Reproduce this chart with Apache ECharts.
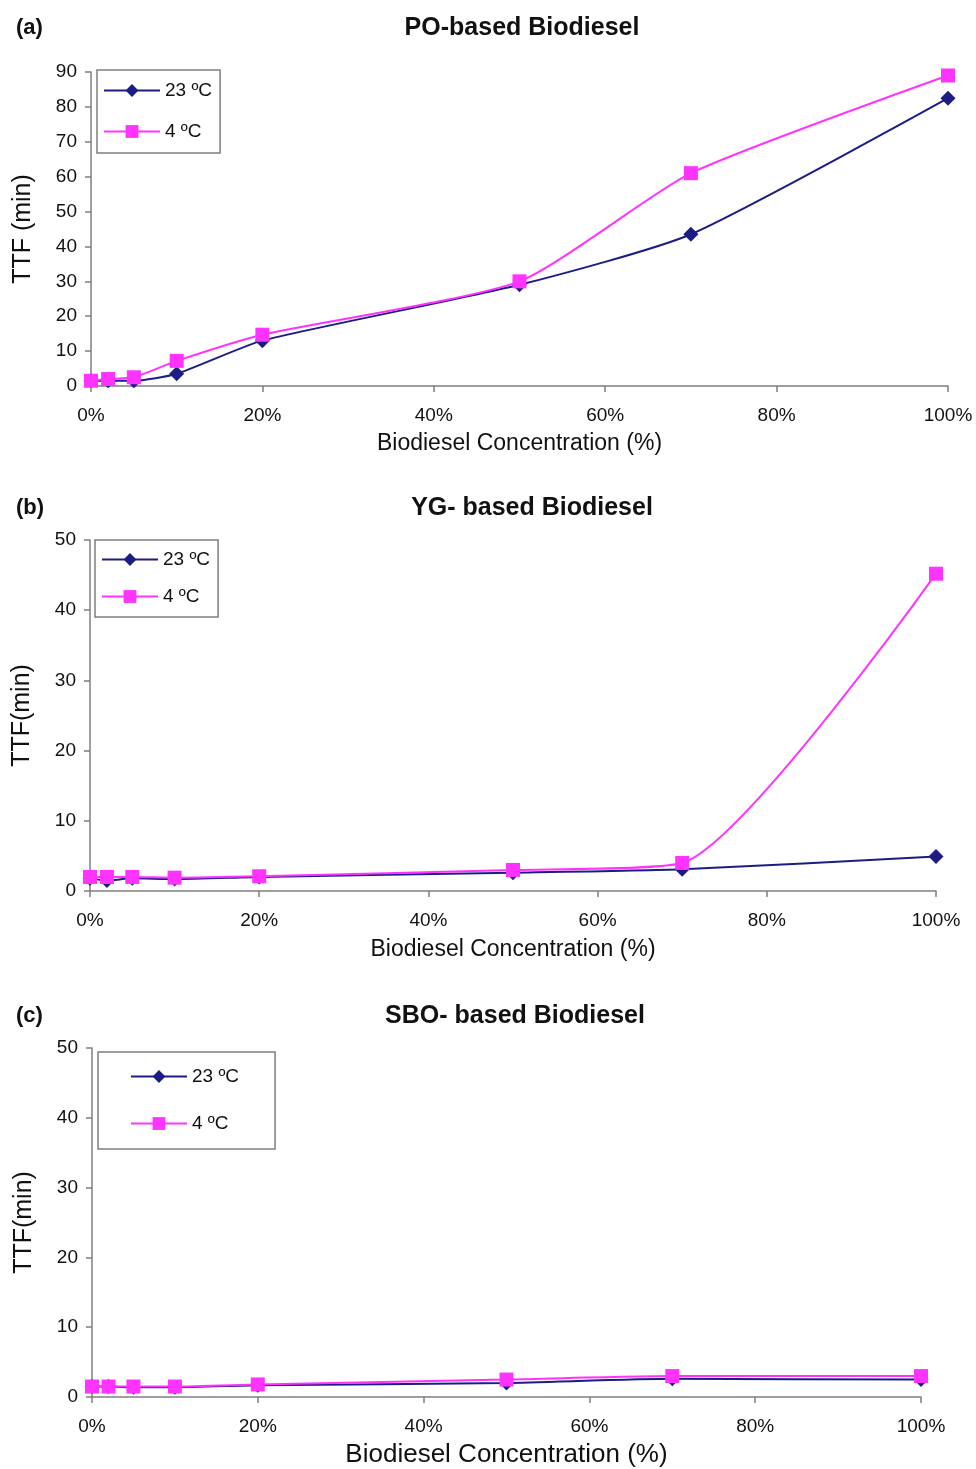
<!DOCTYPE html>
<html>
<head>
<meta charset="utf-8">
<script src="https://cdn.jsdelivr.net/npm/echarts@6/dist/echarts.min.js"></script>
<style>
  html, body { margin: 0; padding: 0; background: #fff; }
</style>
</head>
<body>
<div id="chart" style="width: 976px; height: 1469px;"></div>
<script>
// biodiesel concentration (%) for every measured point
const concentrations = [0, 2, 5, 10, 20, 50, 70, 100]
const seriesNames = ['23 ºC', '4 ºC']

// PO-based
const poWarm = [1.5, 1.5, 1.5, 3.5, 13, 29, 43.5, 82.5]
const poCold = [1.5, 2, 2.5, 7.2, 14.7, 30, 61, 89]
// YG-based
const ygWarm = [1.8, 1.5, 1.8, 1.7, 2, 2.6, 3.1, 4.9]
const ygCold = [2, 2, 2, 1.9, 2.1, 3, 4, 45.2]
// SBO-based
const sboWarm = [1.5, 1.5, 1.4, 1.4, 1.7, 2, 2.6, 2.5]
const sboCold = [1.5, 1.5, 1.5, 1.5, 1.8, 2.5, 3, 3]

const panelTitles = ['PO-based Biodiesel', 'YG- based Biodiesel', 'SBO- based Biodiesel']
const panelTags = ['(a)', '(b)', '(c)']
const yNames = ['TTF (min)', 'TTF(min)', 'TTF(min)']
const yMax = [90, 50, 50]
const xName = 'Biodiesel Concentration (%)'

const NAVY = '#1c1c85'
const PINK = '#ff33ff'
const AXIS = '#7f7f7f'
const FONT = '"Liberation Sans", Arial, sans-serif'

const grids = [
    { left: 91, top: 72, width: 857, height: 314 },
    { left: 90, top: 540, width: 846, height: 351 },
    { left: 92, top: 1048, width: 829, height: 351 }
]
const legendBoxes = [
    { left: 97, top: 70, itemGap: 22, padding: [11, 8, 12, 6] },
    { left: 95, top: 540, itemGap: 18, padding: [10, 8, 11, 6] },
    { left: 98, top: 1052, itemGap: 28, padding: [15, 36, 16, 32] }
]
const xNameSize = [23, 23, 26]
const xNameGap = [46, 47, 45]
const titleTop = [11, 491, 999]

function pair(xs, ys) {
    return xs.map((x, i) => [x, ys[i]])
}

const chart = echarts.init(document.getElementById('chart'))

let titles = []
let legends = []
let xAxes = []
let yAxes = []
let series = []
const dataSets = [[poWarm, poCold], [ygWarm, ygCold], [sboWarm, sboCold]]

grids.forEach((g, i) => {
    titles.push({
        text: panelTitles[i],
        left: [517, 527, 510][i],
        top: titleTop[i],
        textAlign: 'center',
        textStyle: { fontFamily: FONT, fontSize: 25, fontWeight: 'bold', color: '#111' }
    })
    titles.push({
        text: panelTags[i],
        left: 11,
        top: titleTop[i] + 1,
        textStyle: { fontFamily: FONT, fontSize: 22, fontWeight: 'bold', color: '#111' }
    })
    legends.push({
        data: seriesNames,
        orient: 'vertical',
        left: legendBoxes[i].left,
        top: legendBoxes[i].top,
        itemGap: legendBoxes[i].itemGap,
        padding: legendBoxes[i].padding,
        itemWidth: 56,
        itemHeight: 16,
        borderColor: AXIS,
        borderWidth: 1.5,
        borderRadius: 0,
        selectedMode: false,
        textStyle: { fontFamily: FONT, fontSize: 19, color: '#111' }
    })
    xAxes.push({
        type: 'value',
        gridIndex: i,
        min: 0,
        max: 100,
        interval: 20,
        name: xName,
        nameLocation: 'middle',
        nameGap: xNameGap[i],
        nameTextStyle: { fontFamily: FONT, fontSize: xNameSize[i], color: '#111' },
        axisLine: { lineStyle: { color: AXIS, width: 1.5 } },
        axisTick: { lineStyle: { color: AXIS, width: 1.5 }, length: 6 },
        splitLine: { show: false },
        axisLabel: {
            formatter: '{value}%',
            margin: 20,
            fontFamily: FONT,
            fontSize: 19,
            color: '#111'
        }
    })
    yAxes.push({
        type: 'value',
        gridIndex: i,
        min: 0,
        max: yMax[i],
        interval: 10,
        name: yNames[i],
        nameLocation: 'middle',
        nameRotate: 90,
        nameGap: 55,
        nameTextStyle: { fontFamily: FONT, fontSize: 25, color: '#111' },
        axisLine: { show: true, lineStyle: { color: AXIS, width: 1.5 } },
        axisTick: { show: true, lineStyle: { color: AXIS, width: 1.5 }, length: 6 },
        splitLine: { show: false },
        axisLabel: { margin: 14, fontFamily: FONT, fontSize: 19, color: '#111' }
    })
    const [warm, cold] = dataSets[i]
    series.push({
        name: seriesNames[0],
        type: 'line',
        xAxisIndex: i,
        yAxisIndex: i,
        smooth: 0.2,
        data: pair(concentrations, warm),
        symbol: 'diamond',
        symbolSize: 15,
        lineStyle: { color: NAVY, width: 2 },
        itemStyle: { color: NAVY },
        z: 2
    })
    series.push({
        name: seriesNames[1],
        type: 'line',
        xAxisIndex: i,
        yAxisIndex: i,
        smooth: 0.2,
        data: pair(concentrations, cold),
        symbol: 'rect',
        symbolSize: 14,
        lineStyle: { color: PINK, width: 2 },
        itemStyle: { color: PINK },
        z: 3
    })
})

const option = {
    backgroundColor: '#fff',
    animation: false,
    title: titles,
    legend: legends,
    grid: grids,
    xAxis: xAxes,
    yAxis: yAxes,
    series: series
}
chart.setOption(option)
</script>
</body>
</html>
